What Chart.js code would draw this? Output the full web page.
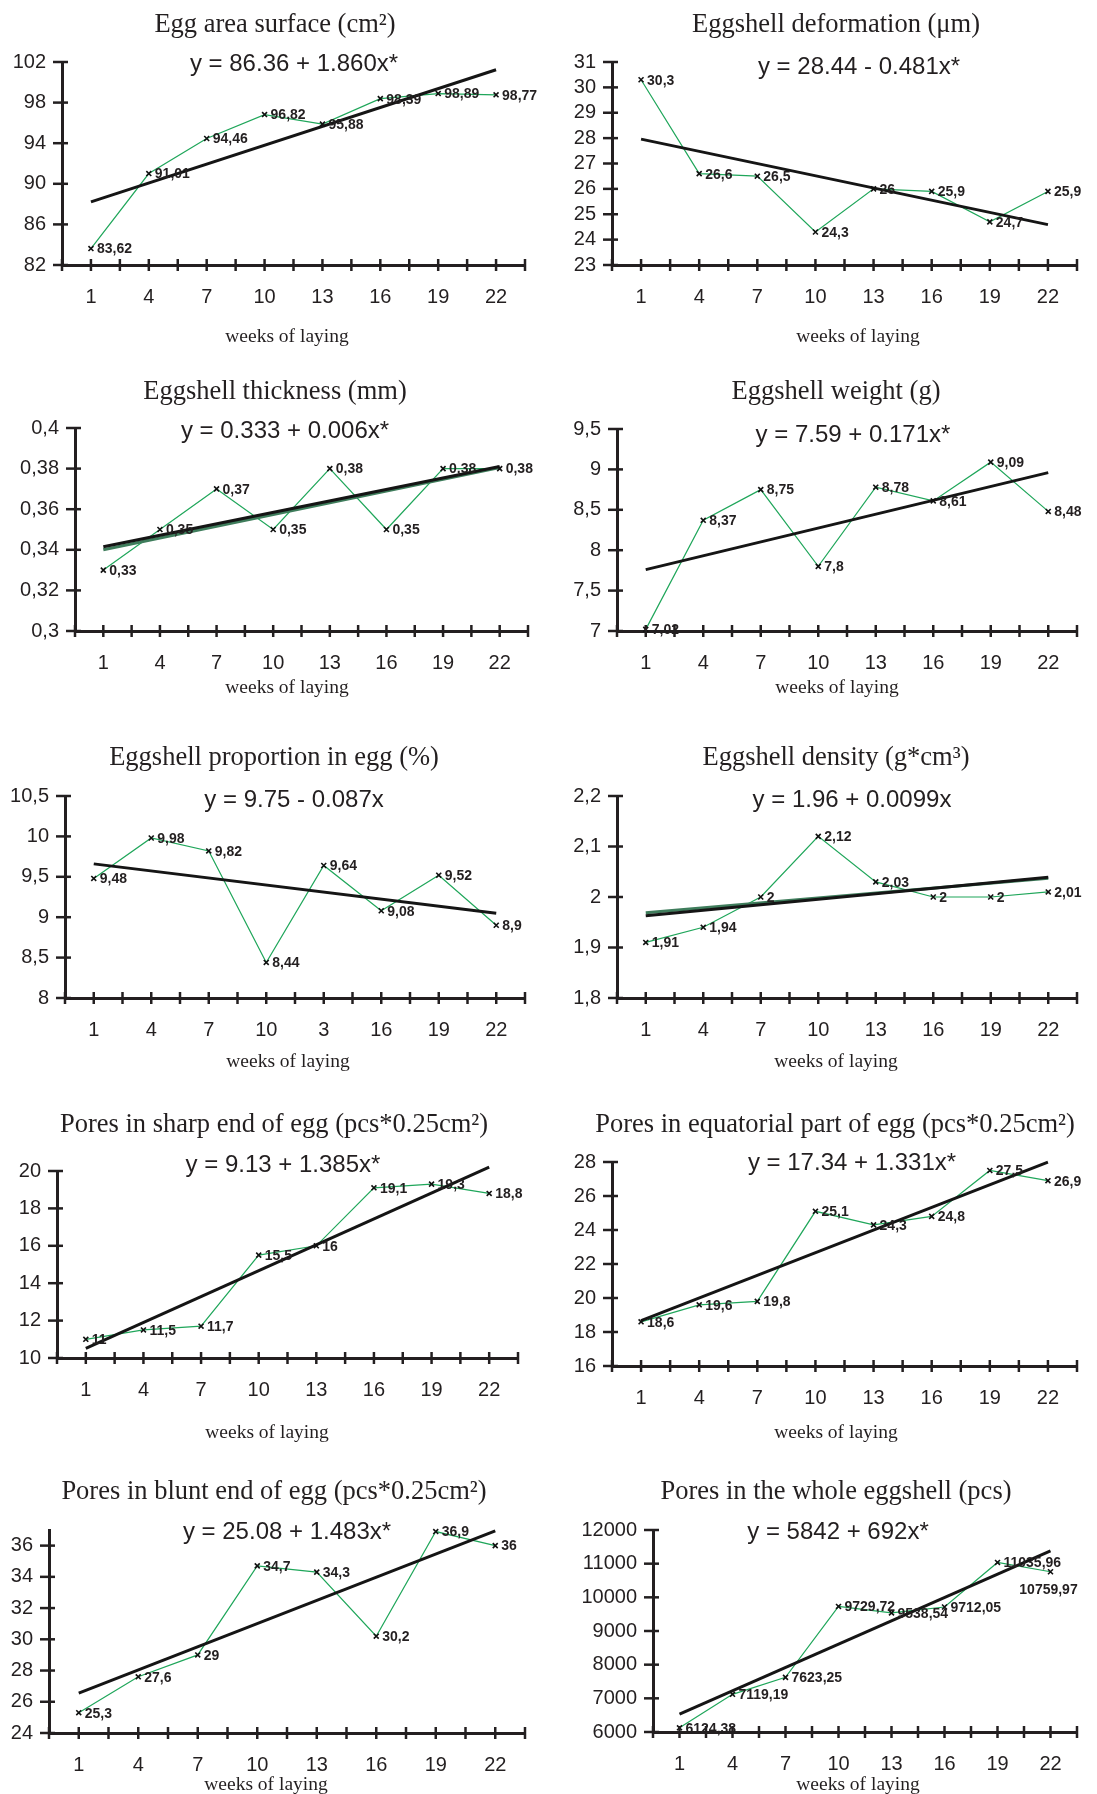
<!DOCTYPE html>
<html>
<head>
<meta charset="utf-8">
<script src="https://cdn.jsdelivr.net/npm/chart.js@4.4.1/dist/chart.umd.min.js"></script>
<style>
  html, body { margin: 0; padding: 0; background: #fff; overflow: hidden; }
  #page { position: relative; width: 1097px; height: 1794px; }
  #page canvas { position: absolute; }
</style>
</head>
<body>
<div id="page"></div>
<script>
// weeks of laying and the x axis tick marks
var weeks = [1, 4, 7, 10, 13, 16, 19, 22];
var weekLabels = ['1', '4', '7', '10', '13', '16', '19', '22'];
var weekLabelsProportion = ['1', '4', '7', '10', '3', '16', '19', '22']; // printed like this in the original
var xTickPositions = [-0.5, 1, 2.5, 4, 5.5, 7, 8.5, 10, 11.5, 13, 14.5, 16, 17.5, 19, 20.5, 22, 23.5];

// series values, trend line ends at week 1 and 22, y ticks
var eggArea = [83.62, 91.01, 94.46, 96.82, 95.88, 98.39, 98.89, 98.77];
var eggAreaTrend = [88.22, 101.24];
var eggAreaTicks = [82, 86, 90, 94, 98, 102];

var deformation = [30.3, 26.6, 26.5, 24.3, 26, 25.9, 24.7, 25.9];
var deformationTrend = [27.96, 24.59];
var deformationTicks = [23, 24, 25, 26, 27, 28, 29, 30, 31];

var thickness = [0.33, 0.35, 0.37, 0.35, 0.38, 0.35, 0.38, 0.38];
var thicknessTrend = [0.3415, 0.381];
var thicknessTrend2 = [0.340, 0.3805];
var thicknessTicks = [0.3, 0.32, 0.34, 0.36, 0.38, 0.4];

var shellWeight = [7.02, 8.37, 8.75, 7.8, 8.78, 8.61, 9.09, 8.48];
var shellWeightTrend = [7.76, 8.96];
var shellWeightTicks = [7, 7.5, 8, 8.5, 9, 9.5];

var proportion = [9.48, 9.98, 9.82, 8.44, 9.64, 9.08, 9.52, 8.9];
var proportionTrend = [9.66, 9.05];
var proportionTicks = [8, 8.5, 9, 9.5, 10, 10.5];

var density = [1.91, 1.94, 2, 2.12, 2.03, 2, 2, 2.01];
var densityTrend = [1.963, 2.039];
var densityTrend2 = [1.969, 2.037];
var densityTicks = [1.8, 1.9, 2, 2.1, 2.2];

var poresSharp = [11, 11.5, 11.7, 15.5, 16, 19.1, 19.3, 18.8];
var poresSharpTrend = [10.52, 20.21];
var poresSharpTicks = [10, 12, 14, 16, 18, 20];

var poresEquator = [18.6, 19.6, 19.8, 25.1, 24.3, 24.8, 27.5, 26.9];
var poresEquatorTrend = [18.67, 27.99];
var poresEquatorTicks = [16, 18, 20, 22, 24, 26, 28];

var poresBlunt = [25.3, 27.6, 29, 34.7, 34.3, 30.2, 36.9, 36];
var poresBluntTrend = [26.56, 36.94];
var poresBluntTicks = [24, 26, 28, 30, 32, 34, 36];

var poresWhole = [6124.38, 7119.19, 7623.25, 9729.72, 9538.54, 9712.05, 11035.96, 10759.97];
var poresWholeTrend = [6534, 11378];
var poresWholeTicks = [6000, 7000, 8000, 9000, 10000, 11000, 12000];

var INK = '#231f20';
var GREEN = '#1fa65a';
var SANS = '"Liberation Sans", Arial, sans-serif';
var SERIF = '"Liberation Serif", "Times New Roman", serif';

function comma(v) {
  return String(v).replace('.', ',');
}

// titles, equation, x title, point labels and the tick marks that cross the axes
var panelText = {
  id: 'panelText',
  afterDatasetsDraw: function(chart, args, o) {
    var ctx = chart.ctx;
    var area = chart.chartArea;
    var xs = chart.scales.x, ys = chart.scales.y;
    ctx.save();

    ctx.strokeStyle = INK;
    ctx.lineWidth = 2.5;
    xs.ticks.forEach(function(t) {
      var px = xs.getPixelForValue(t.value);
      ctx.beginPath();
      ctx.moveTo(px, area.bottom - 6);
      ctx.lineTo(px, area.bottom + 6);
      ctx.stroke();
    });
    ys.ticks.forEach(function(t) {
      var py = ys.getPixelForValue(t.value);
      ctx.beginPath();
      ctx.moveTo(area.left - 9, py);
      ctx.lineTo(area.left + 6, py);
      ctx.stroke();
    });

    ctx.fillStyle = INK;
    ctx.textAlign = 'center';
    ctx.textBaseline = 'middle';
    ctx.font = '26.5px ' + SERIF;
    ctx.fillText(o.title, o.titlePos[0] - o.ox, o.titlePos[1] - o.oy);
    ctx.font = '24px ' + SANS;
    ctx.fillText(o.equation, o.eqPos[0] - o.ox, o.eqPos[1] - o.oy);
    ctx.font = '19.5px ' + SERIF;
    ctx.fillText('weeks of laying', o.weeksPos[0] - o.ox, o.weeksPos[1] - o.oy);

    // value labels next to each point
    ctx.font = 'bold 14px ' + SANS;
    var meta = chart.getDatasetMeta(0);
    var vals = chart.data.datasets[0].data;
    meta.data.forEach(function(pt, i) {
      var txt = comma(vals[i].y);
      if (o.below && o.below.indexOf(i) >= 0) {
        ctx.textAlign = 'center';
        ctx.fillText(txt, pt.x - 2, pt.y + 18);
      } else {
        ctx.textAlign = 'left';
        ctx.fillText(txt, pt.x + 6, pt.y + 1);
      }
    });
    ctx.restore();
  }
};

var page = document.getElementById('page');

function makeChart(p) {
  var box = p.box, area = p.area;
  var c = document.createElement('canvas');
  c.width = box[2];
  c.height = box[3];
  c.style.left = box[0] + 'px';
  c.style.top = box[1] + 'px';
  c.style.width = box[2] + 'px';
  c.style.height = box[3] + 'px';
  page.appendChild(c);

  var xAxisH = 40;
  var yAxisW = area[0] - box[0];

  var points = weeks.map(function(w, i) { return { x: w, y: p.values[i] }; });
  var datasets = [
    {
      data: points, showLine: false, clip: false,
      pointStyle: 'crossRot', pointRadius: 3.5, pointBorderWidth: 1.6,
      pointBorderColor: '#111', pointBackgroundColor: '#111'
    },
    {
      data: [{ x: weeks[0], y: p.trend[0] }, { x: weeks[weeks.length - 1], y: p.trend[1] }],
      showLine: true, borderColor: '#151515', borderWidth: 3, pointRadius: 0, clip: false
    }
  ];
  if (p.trend2) {
    datasets.push({
      data: [{ x: weeks[0], y: p.trend2[0] }, { x: weeks[weeks.length - 1], y: p.trend2[1] }],
      showLine: true, borderColor: '#3f7d5c', borderWidth: 3, pointRadius: 0, clip: false
    });
  }
  datasets.push({
    data: points, showLine: true, borderColor: GREEN, borderWidth: 1.2, pointRadius: 0, clip: false
  });

  var yTicks = p.yTicks;
  new Chart(c, {
    type: 'scatter',
    data: { datasets: datasets },
    options: {
      responsive: false,
      animation: false,
      events: [],
      layout: {
        padding: {
          left: 0,
          top: area[1] - box[1],
          right: box[0] + box[2] - area[2],
          bottom: box[1] + box[3] - area[3] - xAxisH
        }
      },
      plugins: {
        legend: { display: false },
        tooltip: { enabled: false },
        panelText: {
          title: p.title, equation: p.equation, titlePos: p.titlePos, eqPos: p.eqPos,
          weeksPos: p.weeksPos, below: p.below, ox: box[0], oy: box[1]
        }
      },
      scales: {
        x: {
          type: 'linear',
          min: xTickPositions[0],
          max: xTickPositions[xTickPositions.length - 1],
          afterBuildTicks: function(s) {
            s.ticks = xTickPositions.map(function(v) { return { value: v }; });
          },
          afterFit: function(s) { s.height = xAxisH; },
          grid: { display: false, drawTicks: false },
          border: { display: true, color: INK, width: 3 },
          ticks: {
            autoSkip: false, maxRotation: 0, minRotation: 0, padding: 20,
            color: INK, font: { family: SANS, size: 20 },
            callback: function(v) {
              var i = weeks.indexOf(v);
              return i >= 0 ? p.xLabels[i] : '';
            }
          }
        },
        y: {
          type: 'linear',
          min: yTicks[0],
          max: p.yMax !== undefined ? p.yMax : yTicks[yTicks.length - 1],
          afterBuildTicks: function(s) {
            s.ticks = yTicks.map(function(v) { return { value: v }; });
          },
          afterFit: function(s) { s.width = yAxisW; },
          grid: { display: false, drawTicks: false },
          border: { display: true, color: INK, width: 3 },
          ticks: {
            autoSkip: false, padding: 16, color: INK, font: { family: SANS, size: 20 },
            callback: function(v) { return comma(v); }
          }
        }
      }
    },
    plugins: [panelText]
  });
}

var panels = [
  { box: [0, 0, 548, 360], area: [62, 62, 525, 265], values: eggArea, trend: eggAreaTrend, yTicks: eggAreaTicks,
    xLabels: weekLabels, title: 'Egg area surface (cm²)', equation: 'y = 86.36 + 1.860x*',
    titlePos: [275, 25], eqPos: [294, 64], weeksPos: [287, 337] },
  { box: [548, 0, 549, 360], area: [612, 62, 1086, 265], values: deformation, trend: deformationTrend, yTicks: deformationTicks,
    xLabels: weekLabels, title: 'Eggshell deformation (μm)', equation: 'y = 28.44 - 0.481x*',
    titlePos: [836, 25], eqPos: [859, 67], weeksPos: [858, 337] },
  { box: [0, 360, 548, 360], area: [75, 428, 533, 631], values: thickness, trend: thicknessTrend, trend2: thicknessTrend2,
    yTicks: thicknessTicks, xLabels: weekLabels, title: 'Eggshell thickness (mm)', equation: 'y = 0.333 + 0.006x*',
    titlePos: [275, 392], eqPos: [285, 431], weeksPos: [287, 688] },
  { box: [548, 360, 549, 360], area: [617, 429, 1086, 631], values: shellWeight, trend: shellWeightTrend, yTicks: shellWeightTicks,
    xLabels: weekLabels, title: 'Eggshell weight (g)', equation: 'y = 7.59 + 0.171x*',
    titlePos: [836, 392], eqPos: [853, 435], weeksPos: [837, 688] },
  { box: [0, 720, 548, 380], area: [65, 796, 525, 998], values: proportion, trend: proportionTrend, yTicks: proportionTicks,
    xLabels: weekLabelsProportion, title: 'Eggshell proportion in egg (%)', equation: 'y = 9.75 - 0.087x',
    titlePos: [274, 758], eqPos: [294, 800], weeksPos: [288, 1062] },
  { box: [548, 720, 549, 380], area: [617, 796, 1086, 998], values: density, trend: densityTrend, trend2: densityTrend2,
    yTicks: densityTicks, xLabels: weekLabels, title: 'Eggshell density (g*cm³)', equation: 'y = 1.96 + 0.0099x',
    titlePos: [836, 758], eqPos: [852, 800], weeksPos: [836, 1062] },
  { box: [0, 1100, 548, 360], area: [57, 1171, 518, 1358], values: poresSharp, trend: poresSharpTrend, yTicks: poresSharpTicks,
    xLabels: weekLabels, title: 'Pores in sharp end of egg (pcs*0.25cm²)', equation: 'y = 9.13 + 1.385x*',
    titlePos: [274, 1125], eqPos: [283, 1165], weeksPos: [267, 1433] },
  { box: [548, 1100, 549, 360], area: [612, 1162, 1086, 1366], values: poresEquator, trend: poresEquatorTrend, yTicks: poresEquatorTicks,
    xLabels: weekLabels, title: 'Pores in equatorial part of egg (pcs*0.25cm²)', equation: 'y = 17.34 + 1.331x*',
    titlePos: [835, 1125], eqPos: [852, 1163], weeksPos: [836, 1433] },
  { box: [0, 1460, 548, 334], area: [49, 1530, 525, 1733], values: poresBlunt, trend: poresBluntTrend, yTicks: poresBluntTicks,
    yMax: 37, xLabels: weekLabels, title: 'Pores in blunt end of egg (pcs*0.25cm²)', equation: 'y = 25.08 + 1.483x*',
    titlePos: [274, 1492], eqPos: [287, 1532], weeksPos: [266, 1785] },
  { box: [548, 1460, 549, 334], area: [653, 1530, 1094, 1732], values: poresWhole, trend: poresWholeTrend, yTicks: poresWholeTicks,
    xLabels: weekLabels, title: 'Pores in the whole eggshell (pcs)', equation: 'y = 5842 + 692x*',
    titlePos: [836, 1492], eqPos: [838, 1532], weeksPos: [858, 1785], below: [7] }
];

panels.forEach(makeChart);
</script>
</body>
</html>
